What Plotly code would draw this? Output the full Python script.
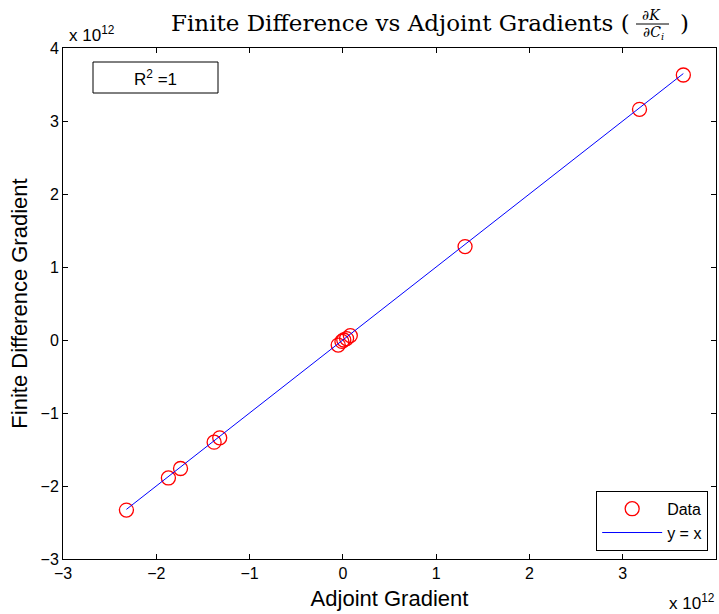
import plotly.graph_objects as go

# values in units of 1e12
adjoint = [-2.32, -1.87, -1.74, -1.38, -1.32, -0.05, -0.01, 0.01, 0.04, 0.08, 1.31, 3.18, 3.65]
finite_diff = [-2.33, -1.89, -1.76, -1.40, -1.34, -0.07, -0.02, 0.0, 0.02, 0.06, 1.28, 3.16, 3.63]
axis_ticks = [-3, -2, -1, 0, 1, 2, 3, 4]
r2_text = "R<sup>2</sup> =1"

lo = min(adjoint)
hi = max(adjoint)

fig = go.Figure()
fig.add_trace(go.Scatter(
    x=adjoint, y=finite_diff, mode="markers", name="Data",
    marker=dict(symbol="circle-open", size=14, color="red", line=dict(width=1.3, color="red")),
))
fig.add_trace(go.Scatter(
    x=[lo, hi], y=[lo, hi], mode="lines", name="y = x",
    line=dict(color="blue", width=1),
))

axis_common = dict(
    range=[-3, 4], tickvals=axis_ticks, ticktext=[("\u2212" + str(-t)) if t < 0 else str(t) for t in axis_ticks],
    ticks="inside", ticklen=5, tickcolor="black", showline=True, linecolor="black", linewidth=1,
    mirror="ticks", showgrid=False, zeroline=False, automargin=False,
    tickfont=dict(family="Liberation Sans, Arial", size=16, color="black"),
)

fig.update_layout(
    width=719, height=614,
    margin=dict(l=63, r=3, t=48, b=55, autoexpand=False),
    paper_bgcolor="white", plot_bgcolor="white",
    showlegend=True,
    legend=dict(x=0.988, y=0.016, xanchor="right", yanchor="bottom", itemwidth=60,
                bordercolor="black", borderwidth=1, bgcolor="white", tracegroupgap=0,
                font=dict(family="Liberation Sans, Arial", size=16, color="black")),
    xaxis=dict(axis_common, title=dict(text="Adjoint Gradient", standoff=9,
               font=dict(family="Liberation Sans, Arial", size=22, color="black"))),
    yaxis=dict(axis_common, title=dict(text="Finite Difference Gradient", standoff=6,
               font=dict(family="Liberation Sans, Arial", size=22, color="black"))),
)

serif = "DejaVu Serif, Liberation Serif"

def px_x(p):
    return (p - 63) / 653.0

def px_y(p):
    return (559 - p) / 511.0

annotations = [
    dict(text="Finite Difference vs Adjoint Gradients (", x=px_x(632), y=px_y(23), xanchor="right", yanchor="middle",
         font=dict(family=serif, size=23, color="black")),
    dict(text="<i>\u2202K</i>", x=px_x(651), y=px_y(15), xanchor="center", yanchor="middle",
         font=dict(family=serif, size=14, color="black")),
    dict(text="<i>\u2202C<sub>i</sub></i>", x=px_x(653), y=px_y(33), xanchor="center", yanchor="middle",
         font=dict(family=serif, size=14, color="black")),
    dict(text=")", x=px_x(684), y=px_y(23), xanchor="center", yanchor="middle",
         font=dict(family=serif, size=23, color="black")),
    dict(text="x 10<sup>12</sup>", x=px_x(67), y=px_y(34), xanchor="left", yanchor="middle",
         font=dict(family="Liberation Sans, Arial", size=17, color="black")),
    dict(text="x 10<sup>12</sup>", x=px_x(667), y=px_y(602), xanchor="left", yanchor="middle",
         font=dict(family="Liberation Sans, Arial", size=17, color="black")),
    dict(text=r2_text, x=px_x(155), y=px_y(78), xanchor="center", yanchor="middle",
         font=dict(family="Liberation Sans, Arial", size=17, color="black")),
]
for a in annotations:
    a.update(xref="paper", yref="paper", showarrow=False)
fig.update_layout(annotations=annotations)

fig.add_shape(type="line", xref="paper", yref="paper", x0=px_x(636), x1=px_x(669), y0=px_y(24), y1=px_y(24),
              line=dict(color="black", width=1))
fig.add_shape(type="rect", xref="paper", yref="paper", x0=px_x(93), x1=px_x(218), y0=px_y(62), y1=px_y(93),
              line=dict(color="black", width=1), fillcolor="white", layer="below")

fig.write_html("out.html", config={"displayModeBar": False},
               post_script="document.body.style.margin='0';document.body.style.padding='0';document.body.style.overflow='hidden';")
